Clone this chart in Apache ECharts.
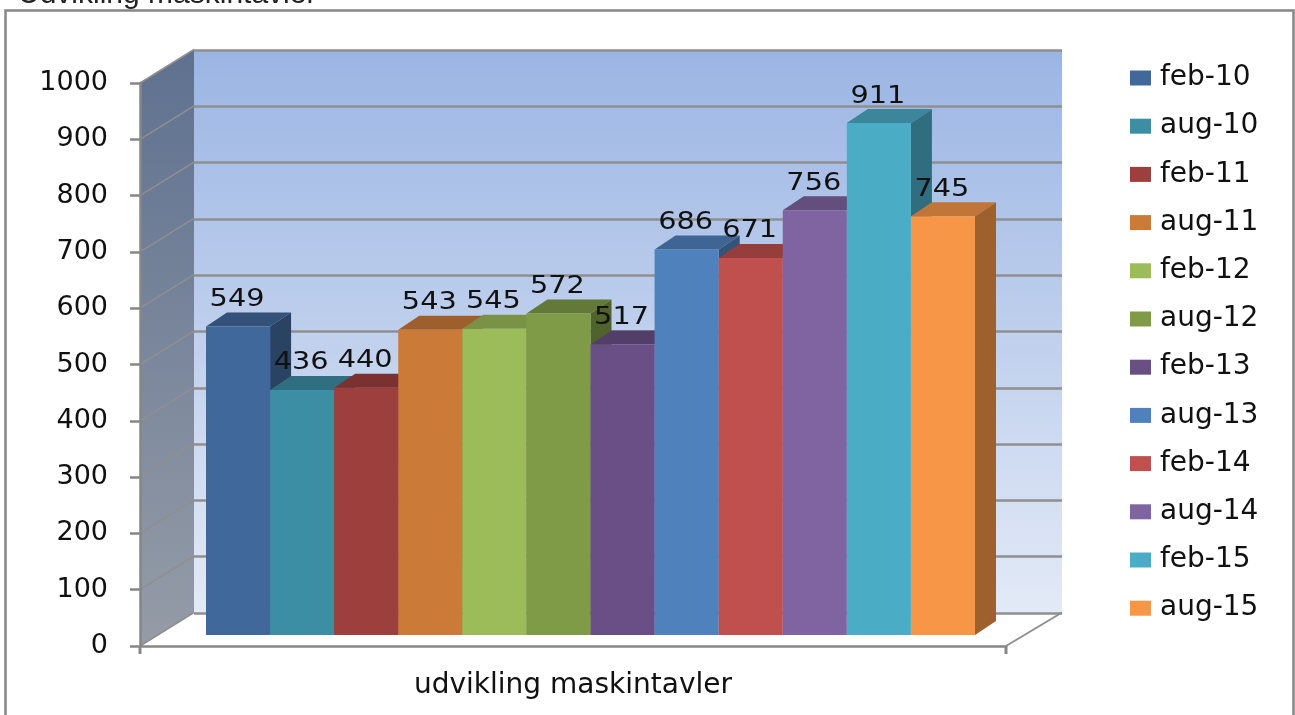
<!DOCTYPE html>
<html><head><meta charset="utf-8">
<style>html,body{margin:0;padding:0;background:#fff}#c{width:1295px;height:715px}</style>
<script src="https://cdn.jsdelivr.net/npm/echarts@6/dist/echarts.min.js"></script>
</head><body><div id="c"></div>
<script>
const titleText = 'Udvikling maskintavler';
const axisCategory = ['udvikling maskintavler'];
const periods = ['feb-10','aug-10','feb-11','aug-11','feb-12','aug-12','feb-13','aug-13','feb-14','aug-14','feb-15','aug-15'];
const values = [549,436,440,543,545,572,517,686,671,756,911,745];
const barColors = ['#41689b','#3c8ea5','#9c3f3d','#cb7a38','#9cbb59','#7f9b47','#694f85','#4f81bd','#c0504d','#8064a2','#4bacc6','#f79646'];
const yTicks = [0,100,200,300,400,500,600,700,800,900,1000];

const GRAY = '#868686', FONT = '"DejaVu Sans"';
const WALL_DX = 54, WALL_DY = -33.5, BAR_DX = 21, BAR_DY = -14;
const shade = (hex, k) => {
  const n = parseInt(hex.slice(1), 16);
  return 'rgb(' + [n >> 16, (n >> 8) & 255, n & 255].map(c => Math.round(c * k)).join(',') + ')';
};
const grad = (a, b) => new echarts.graphic.LinearGradient(0, 0, 0, 1, [{offset: 0, color: a}, {offset: 1, color: b}]);

const sideWall = {
  type: 'custom', xAxisIndex: 0, yAxisIndex: 0, z: 1, silent: true,
  data: [[0, 0, 1000]],
  renderItem(p, api) {
    const x = p.coordSys.x, y0 = api.coord([0, api.value(1)])[1], y1 = api.coord([0, api.value(2)])[1];
    return {type: 'polygon', shape: {points: [[x, y0], [x + WALL_DX, y0 + WALL_DY], [x + WALL_DX, y1 + WALL_DY], [x, y1]]},
      style: {fill: grad('#5f7190', '#959ca7')}};
  }
};
const wallLines = {
  type: 'custom', xAxisIndex: 0, yAxisIndex: 0, z: 2, silent: true,
  data: yTicks.map(v => [0, v]),
  renderItem(p, api) {
    const x = p.coordSys.x, y = api.coord([0, api.value(1)])[1];
    return {type: 'line', shape: {x1: x, y1: y, x2: x + WALL_DX, y2: y + WALL_DY},
      style: {stroke: '#8f8f8f', lineWidth: 1.5}};
  }
};
const floorEdge = {
  type: 'custom', xAxisIndex: 0, yAxisIndex: 0, z: 2, silent: true,
  data: [[0, 0]],
  renderItem(p, api) {
    const c = p.coordSys, x = c.x + c.width, y = api.coord([0, api.value(1)])[1];
    return {type: 'group', children: [
      {type: 'line', shape: {x1: x, y1: y, x2: x + WALL_DX + 2, y2: y + WALL_DY}, style: {stroke: '#8f8f8f', lineWidth: 2}},
      {type: 'line', shape: {x1: x, y1: y, x2: x, y2: y + 8}, style: {stroke: GRAY, lineWidth: 3}},
      {type: 'line', shape: {x1: c.x, y1: y, x2: c.x, y2: y + 8}, style: {stroke: GRAY, lineWidth: 3}}
    ]};
  }
};
const barSeries = periods.map((name, i) => ({
  type: 'custom', name, xAxisIndex: 2, yAxisIndex: 2, z: 3 + i * 0.01,
  itemStyle: {color: barColors[i]},
  data: [[i, values[i]]],
  renderItem(p, api) {
    const top = api.coord([api.value(0), api.value(1)]);
    const base = api.coord([api.value(0), 0]);
    const w = api.size([1, 0])[0];
    const x0 = top[0] - w / 2, x1 = top[0] + w / 2, y = top[1], b = base[1];
    const c = barColors[i];
    return {type: 'group', children: [
      {type: 'polygon', shape: {points: [[x1, y], [x1 + BAR_DX, y + BAR_DY], [x1 + BAR_DX, b + BAR_DY], [x1, b]]}, style: {fill: shade(c, 0.64)}},
      {type: 'polygon', shape: {points: [[x0, y], [x1, y], [x1 + BAR_DX, y + BAR_DY], [x0 + BAR_DX, y + BAR_DY]]}, style: {fill: shade(c, 0.78)}},
      {type: 'rect', shape: {x: x0, y, width: w, height: b - y}, style: {fill: c}}
    ]};
  }
}));
const valueLabels = {
  type: 'custom', name: 'labels', xAxisIndex: 2, yAxisIndex: 2, z: 5, silent: true,
  data: values.map((v, i) => [i, v]),
  renderItem(p, api) {
    const pt = api.coord([api.value(0), api.value(1)]);
    return {type: 'text', x: pt[0] - 1, y: pt[1] - 27, scaleX: 1.15, style: {text: String(api.value(1)),
      font: '25px ' + FONT, fill: '#111', textAlign: 'center', textVerticalAlign: 'middle'}};
  }
};

const chart = echarts.init(document.getElementById('c'), null, {renderer: 'canvas'});
chart.setOption({
  animation: false,
  backgroundColor: '#fff',
  title: {text: titleText, left: 13, top: -25, textStyle: {fontFamily: '"Liberation Sans"', fontWeight: 'normal', fontSize: 30, color: '#222'}},
  graphic: [{type: 'rect', z: 0, shape: {x: 5.5, y: 10.5, width: 1288, height: 730}, style: {fill: 'none', stroke: GRAY, lineWidth: 2.5}}],
  legend: {
    orient: 'vertical', left: 1125, top: 59, data: periods, selectedMode: false,
    icon: 'rect', itemWidth: 21, itemHeight: 15, itemGap: 20.2,
    textStyle: {fontFamily: FONT, fontSize: 28, color: '#111', padding: [4, 0, 0, 4]}
  },
  grid: [
    {left: 140, top: 83, width: 866, height: 563},
    {left: 194, top: 50, width: 868, height: 563, show: true, borderWidth: 0, backgroundColor: grad('#9bb5e3', '#e3eaf7')},
    {left: 206, top: 73, width: 769, height: 562}
  ],
  xAxis: [
    {gridIndex: 0, type: 'category', data: axisCategory, boundaryGap: true, z: 4,
      axisLine: {lineStyle: {color: GRAY, width: 2.5}}, axisTick: {show: false},
      axisLabel: {margin: 26, fontFamily: FONT, fontSize: 28, color: '#111'}},
    {gridIndex: 1, type: 'category', data: axisCategory, axisLine: {show: false}, axisTick: {show: false}, axisLabel: {show: false}},
    {gridIndex: 2, type: 'category', data: periods, axisLine: {show: false}, axisTick: {show: false}, axisLabel: {show: false}}
  ],
  yAxis: [
    {gridIndex: 0, type: 'value', min: 0, max: 1000, interval: 100, z: 4,
      axisLine: {show: true, lineStyle: {color: GRAY, width: 2.5}}, axisTick: {show: true, length: 10, lineStyle: {color: GRAY, width: 2.5}},
      axisLabel: {margin: 32, padding: [5, 0, 0, 0], fontFamily: FONT, fontSize: 27, color: '#111', formatter: v => String(v)}, splitLine: {show: false}},
    {gridIndex: 1, type: 'value', min: 0, max: 1000, interval: 100, axisLine: {show: false}, axisTick: {show: false}, axisLabel: {show: false},
      splitLine: {show: true, lineStyle: {color: '#8f8f8f', width: 2.5}}},
    {gridIndex: 2, type: 'value', min: 0, max: 1000, axisLine: {show: false}, axisTick: {show: false}, axisLabel: {show: false}, splitLine: {show: false}}
  ],
  series: [sideWall, wallLines, floorEdge, ...barSeries, valueLabels]
});
</script></body></html>
